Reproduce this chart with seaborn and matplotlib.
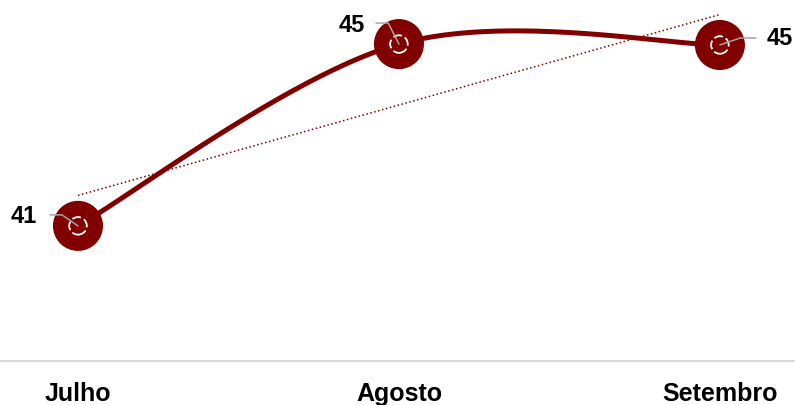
import numpy as np
import matplotlib
matplotlib.use("Agg")
import matplotlib.pyplot as plt
import seaborn as sns

# dados
meses = ["Julho", "Agosto", "Setembro"]
valores = [41.0, 45.0, 44.98]
rotulos = ["41", "45", "45"]

vermelho = "#800000"
cinza = "#a6a6a6"


def curva_suave(y, n=60):
    # spline tipo Catmull-Rom (como a "linha suavizada" do Excel)
    x = np.arange(len(y), dtype=float)
    y = np.asarray(y, dtype=float)
    px = np.concatenate([[x[0]], x, [x[-1]]])
    py = np.concatenate([[y[0]], y, [y[-1]]])
    xs, ys = [], []
    for i in range(1, len(px) - 2):
        t = np.linspace(0, 1, n)
        h00 = 2 * t**3 - 3 * t**2 + 1
        h10 = t**3 - 2 * t**2 + t
        h01 = -2 * t**3 + 3 * t**2
        h11 = t**3 - t**2
        mx0, mx1 = (px[i + 1] - px[i - 1]) / 2, (px[i + 2] - px[i]) / 2
        my0, my1 = (py[i + 1] - py[i - 1]) / 2, (py[i + 2] - py[i]) / 2
        xs.append(h00 * px[i] + h10 * mx0 + h01 * px[i + 1] + h11 * mx1)
        ys.append(h00 * py[i] + h10 * my0 + h01 * py[i + 1] + h11 * my1)
    return np.concatenate(xs), np.concatenate(ys)


sns.set_style("white")
plt.rcParams["font.family"] = ["Liberation Sans", "DejaVu Sans"]
plt.rcParams["text.color"] = "black"
plt.rcParams["xtick.color"] = "black"

fig = plt.figure(figsize=(7.95, 4.05), dpi=100)
ax = fig.add_axes([0, 0.109, 1, 0.891])

pos = np.arange(len(meses))
xs, ys = curva_suave(valores)

# linha de tendência
sns.regplot(x=pos.astype(float), y=np.array(valores), scatter=False, ci=None, ax=ax,
            line_kws=dict(color=vermelho, lw=1.1, ls=":", zorder=1))
# linha suavizada
sns.lineplot(x=xs, y=ys, sort=False, color=vermelho, lw=3.6, ax=ax, zorder=2)
# marcadores
sns.scatterplot(x=pos, y=valores, s=1300, color=vermelho, edgecolor="none", ax=ax, zorder=3)
ax.scatter(pos, valores, s=160, facecolor="none", edgecolor="white", linewidths=1.3,
           linestyles=(0, (5, 1.8)), zorder=4)

# rótulos com linhas de chamada (offsets em pixels)
texto_off = [(-54, 9.5), (-47, 18.5), (60, 6.5)]
linha_off = [(-28, 11), (-23, 21), (36, 7)]
angulo_b = [-34.5, -63, 19]
for i, v in enumerate(valores):
    ax.annotate("", xy=(pos[i], v), xytext=linha_off[i], textcoords="offset pixels",
                arrowprops=dict(arrowstyle="-", color=cinza, lw=1.1, shrinkA=0, shrinkB=0,
                                connectionstyle=f"angle,angleA=0,angleB={angulo_b[i]},rad=0"),
                zorder=5)
    ax.annotate(rotulos[i], xy=(pos[i], v), xytext=texto_off[i], textcoords="offset pixels",
                ha="center", va="center", fontsize=17, fontweight="bold", color="black",
                zorder=6)

ax.set_xlim(-0.243, 2.234)
ax.set_ylim(38.03, 45.97)
ax.set_xticks(pos)
ax.set_xticklabels(meses, fontsize=18, fontweight="bold", color="black")
ax.set_yticks([])
ax.set_xlabel("")
ax.set_ylabel("")
ax.tick_params(axis="x", length=0, pad=15)
for lado in ["top", "left", "right"]:
    ax.spines[lado].set_visible(False)
ax.spines["bottom"].set_color("#d9d9d9")
ax.spines["bottom"].set_linewidth(1.5)

fig.savefig("out.png", dpi=100)
